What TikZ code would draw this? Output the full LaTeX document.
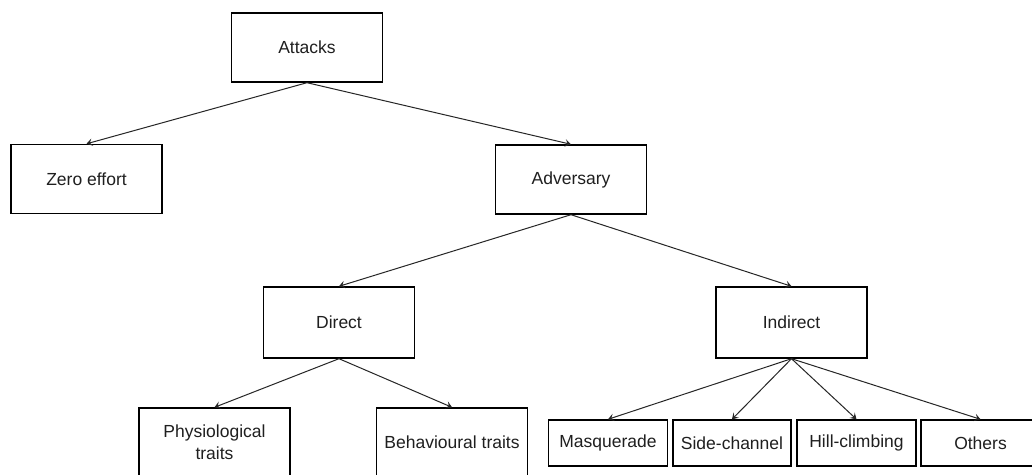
\documentclass[tikz,border=0pt]{standalone}
\usepackage{fontspec}
\setmainfont{Liberation Sans}
\usetikzlibrary{arrows.meta}
\begin{document}
\begin{tikzpicture}[x=1pt,y=-1pt,
  box/.style={draw=black, line width=1.4pt, fill=white, inner sep=0pt,
    align=center, text=black!88,
    font=\fontsize{17.5}{22}\selectfont},
  bigbox/.style={box, minimum width=151pt, minimum height=69pt},
  leafbox/.style={box, minimum width=119pt, minimum height=46pt},
  link/.style={draw=black!85, line width=1pt,
    -{Stealth[length=6pt,width=7.5pt,inset=2.5pt]}}]
  \useasboundingbox (0,0) rectangle (1032,474);
  \clip (0,0) rectangle (1032,474);
  \fill[white] (0,0) rectangle (1032,474);

  % top levels
  \node[bigbox] (attacks) at (307,47.5) {Attacks};
  \node[bigbox] (zero) at (86.5,179) {Zero effort};
  \node[bigbox] (adv) at (571,179.5) {Adversary};

  % adversary branches
  \node[bigbox, minimum height=71pt] (direct) at (339,322.5) {Direct};
  \node[bigbox, minimum height=71pt] (indirect) at (791.5,322.5) {Indirect};

  % direct leaves
  \node[bigbox] (physio) at (214.5,442.5) {Physiological\\traits};
  \node[bigbox] (behav) at (452,442.5) {Behavioural traits};

  % indirect leaves
  \node[leafbox] (masq) at (608,443) {Masquerade};
  \node[leafbox, minimum width=118pt] (side) at (732,443) {Side-channel};
  \node[leafbox] (hill) at (856.5,443) {Hill-climbing};
  \node[leafbox] (others) at (980.5,443) {Others};

  % connectors
  \draw[link] (attacks.south) -- (zero.north);
  \draw[link] (attacks.south) -- (adv.north);
  \draw[link] (adv.south) -- (direct.north);
  \draw[link] (adv.south) -- (indirect.north);
  \draw[link] (direct.south) -- (physio.north);
  \draw[link] (direct.south) -- (behav.north);
  \draw[link] (indirect.south) -- (masq.north);
  \draw[link] (indirect.south) -- (side.north);
  \draw[link] (indirect.south) -- (hill.north);
  \draw[link] (indirect.south) -- (others.north);
\end{tikzpicture}
\end{document}
